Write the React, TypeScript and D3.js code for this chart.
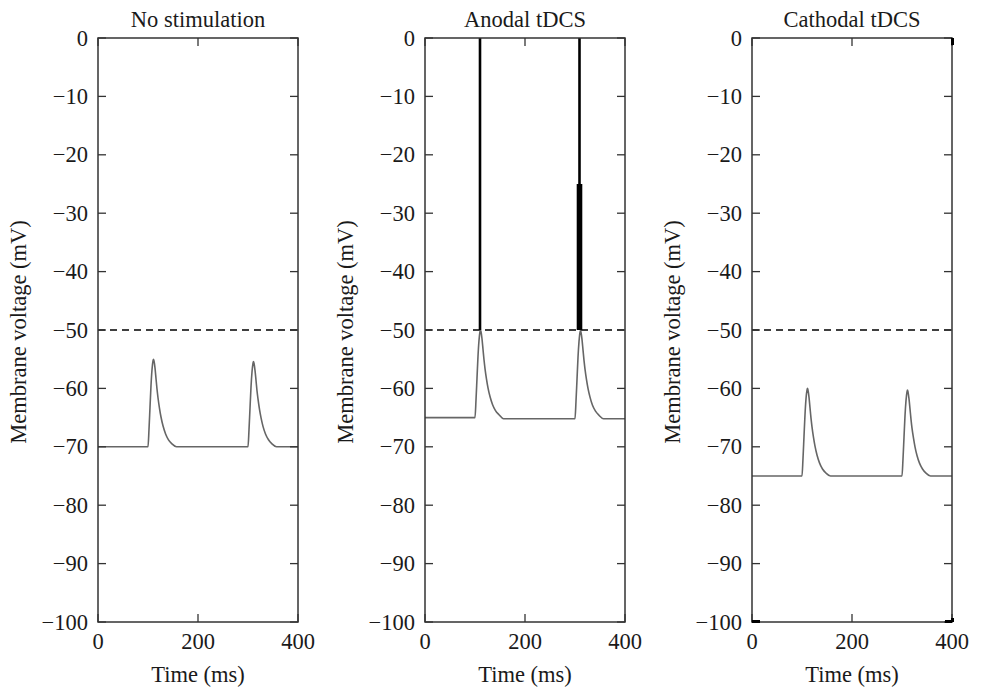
import React from "react";
import * as d3 from "d3";

const titles = ["No stimulation", "Anodal tDCS", "Cathodal tDCS"];
const yTicks = [0, -10, -20, -30, -40, -50, -60, -70, -80, -90, -100];
const xTicks = [0, 200, 400];
const threshold = -50;

const time = [0, 100, 102, 104, 106, 108, 110, 111, 112, 114, 116, 118, 120, 123, 126, 130, 135, 141, 148, 157,
  300, 302, 304, 306, 308, 310, 311, 312, 314, 316, 318, 320, 323, 326, 330, 335, 341, 348, 357, 400];

const vNone = [-70, -70, -67, -63.25, -59.5, -56.8, -55.3, -55, -55.3, -56.5, -58.3, -60.1, -61.6, -63.4, -64.9, -66.4, -67.75, -68.8, -69.5, -70,
  -70, -67.1, -63.4, -59.8, -57.2, -55.7, -55.4, -55.7, -56.9, -58.6, -60.4, -61.8, -63.6, -65, -66.5, -67.8, -68.8, -69.5, -70, -70];
const vAnodal = [-65, -65, -62, -58.25, -54.5, -51.8, -50.3, -50, -50.3, -51.5, -53.3, -55.1, -56.6, -58.4, -59.9, -61.4, -62.75, -63.8, -64.5, -65.2,
  -65.2, -62.2, -58.5, -54.7, -52, -50.4, -50.1, -50.4, -51.6, -53.4, -55.2, -56.7, -58.5, -60, -61.5, -62.9, -63.9, -64.6, -65.2, -65.2];
const vCathodal = [-75, -75, -72, -68.25, -64.5, -61.8, -60.3, -60, -60.3, -61.5, -63.3, -65.1, -66.6, -68.4, -69.9, -71.4, -72.75, -73.8, -74.5, -75,
  -75, -72.1, -68.4, -64.7, -62.1, -60.6, -60.3, -60.6, -61.8, -63.5, -65.3, -66.8, -68.5, -70, -71.5, -72.8, -73.8, -74.5, -75, -75];

// anodal spikes: time, top (mV); all start at threshold
const spikeTimes = [110, 306, 308, 310, 312, 309];
const spikeTops = [0, -25, -25, -25, -25, 0];
const spikeBottom = -50;

const series = [vNone, vAnodal, vCathodal];
const panelLeft = [98, 425, 752];
const panelWidth = 200;
const top = 38;
const bottom = 622;
const font = "'Liberation Serif', 'Times New Roman', serif";
const fs = 22.5;
const axisColor = "#333";
const textColor = "#1a1a1a";

export default function App() {
  const y = d3.scaleLinear().domain([-100, 0]).range([bottom, top]);
  return (
    <svg width={984} height={687} style={{ position: "absolute", left: 0, top: 0, background: "#fff" }}>
      {series.map((vals, i) => {
        const x0 = panelLeft[i];
        const x = d3.scaleLinear().domain([0, 400]).range([x0, x0 + panelWidth]);
        const line = d3
          .line<number>()
          .x((_, k) => x(time[k]))
          .y((v) => y(v))
          .curve(d3.curveMonotoneX);
        return (
          <g key={i}>
            <text x={x0 + panelWidth / 2} y={27} textAnchor="middle" fontFamily={font} fontSize={fs} fill={textColor}>
              {titles[i]}
            </text>
            <line x1={x(0)} x2={x(400)} y1={y(threshold)} y2={y(threshold)} stroke="#000" strokeWidth={1.3} strokeDasharray="7,5" />
            <path d={line(vals) || ""} fill="none" stroke="#666" strokeWidth={1.6} />
            {i === 1 &&
              spikeTimes.map((t, k) => (
                <line key={k} x1={x(t)} x2={x(t)} y1={y(spikeBottom)} y2={y(spikeTops[k])} stroke="#000" strokeWidth={2.6} />
              ))}
            <rect x={x0} y={top} width={panelWidth} height={bottom - top} fill="none" stroke={axisColor} strokeWidth={1.5} />
            {yTicks.map((t) => (
              <g key={t}>
                <line x1={x0} x2={x0 + 8} y1={y(t)} y2={y(t)} stroke={axisColor} strokeWidth={1.3} />
                <line x1={x0 + panelWidth - 8} x2={x0 + panelWidth} y1={y(t)} y2={y(t)} stroke={axisColor} strokeWidth={1.3} />
                <text x={x0 - 10} y={y(t) + 7.5} textAnchor="end" fontFamily={font} fontSize={fs} fill={textColor}>
                  {t < 0 ? "\u2212" + Math.abs(t) : String(t)}
                </text>
              </g>
            ))}
            {xTicks.map((t) => (
              <g key={t}>
                <line x1={x(t)} x2={x(t)} y1={bottom} y2={bottom - 8} stroke={axisColor} strokeWidth={1.3} />
                <line x1={x(t)} x2={x(t)} y1={top} y2={top + 8} stroke={axisColor} strokeWidth={1.3} />
                <text x={x(t)} y={649} textAnchor="middle" fontFamily={font} fontSize={fs} fill={textColor}>
                  {String(t)}
                </text>
              </g>
            ))}
            <text x={x0 + panelWidth / 2} y={682} textAnchor="middle" fontFamily={font} fontSize={fs} fill={textColor}>
              Time (ms)
            </text>
            <text
              transform={`translate(${x0 - 72},${(top + bottom) / 2 + 2}) rotate(-90)`}
              textAnchor="middle"
              fontFamily={font}
              fontSize={fs}
              fill={textColor}
            >
              Membrane voltage (mV)
            </text>
            {i === 2 && (
              <g stroke="#000" strokeWidth={3}>
                <line x1={x(0)} x2={x(0) + 8} y1={bottom - 0.5} y2={bottom - 0.5} />
                <line x1={x(400) - 7} x2={x(400)} y1={bottom - 0.5} y2={bottom - 0.5} />
                <line x1={x(400) + 0.5} x2={x(400) + 0.5} y1={bottom} y2={bottom - 4} />
                <line x1={x(400) + 0.5} x2={x(400) + 0.5} y1={top} y2={top + 7} />
              </g>
            )}
          </g>
        );
      })}
    </svg>
  );
}
